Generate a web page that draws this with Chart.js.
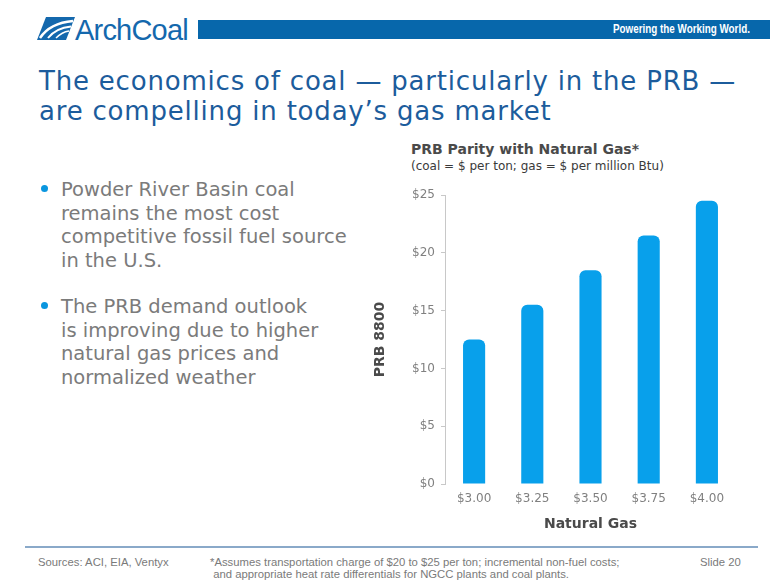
<!DOCTYPE html>
<html>
<head>
<meta charset="utf-8">
<script src="https://cdn.jsdelivr.net/npm/chart.js@4.4.0/dist/chart.umd.min.js"></script>
<style>
  html, body { margin:0; padding:0; background:#fff; }
  body { width:780px; height:585px; position:relative; overflow:hidden; font-family:"DejaVu Sans", Verdana, sans-serif; }
  .abs { position:absolute; white-space:nowrap; }
  #bar { left:198px; top:20px; width:572px; height:19px; background:#0767ab; }
  #tag { right:30px; top:22px; color:#fff; font-family:"Liberation Sans",Arial,sans-serif; font-size:12px; font-weight:bold; line-height:15px; transform:scaleX(0.82); transform-origin:right center; }
  #logoText { left:75px; top:14px; font-family:"Liberation Sans",Arial,sans-serif; font-size:29px; color:#1468ad; letter-spacing:-0.8px; line-height:32px; }
  #title { left:39px; top:66px; color:#1c5c9c; font-size:26px; line-height:30px; letter-spacing:0.8px; }
  .bullets { left:41px; color:#7b7b7b; font-size:19.5px; line-height:23.5px; }
  .dot { position:absolute; left:0; top:7px; width:7px; height:7px; border-radius:50%; background:#0a96df; }
  .btext { margin-left:20px; }
  #chTitle { left:411px; top:141px; font-weight:bold; font-size:14px; color:#4a4a4a; }
  #chSub { left:411px; top:159px; font-size:12px; color:#3a3a3a; }
  #wrap { left:370px; top:180px; width:380px; height:355px; }
  #rule { left:25px; top:546px; width:733px; height:2px; background:#8aa9c9; }
  .foot { font-family:"Liberation Sans",Arial,sans-serif; font-size:11.3px; color:#7a7a7a; line-height:12px; }
</style>
</head>
<body>
<svg class="abs" style="left:37px;top:17px" width="38" height="23" viewBox="0 0 38 23">
  <polygon points="9,0 38,0 29,23 0,23" fill="#1468ad"/>
  <path d="M3,21 Q13,6 36,4" stroke="#fff" stroke-width="2.5" fill="none"/>
  <path d="M11,21 Q19,11 34,9.5" stroke="#fff" stroke-width="2" fill="none"/>
  <path d="M19,21 Q25,15 32,14" stroke="#fff" stroke-width="1.5" fill="none"/>
</svg>
<div class="abs" id="logoText">ArchCoal</div>
<div class="abs" id="bar"></div>
<div class="abs" id="tag">Powering the Working World.</div>

<div class="abs" id="title">The economics of coal — particularly in the PRB —<br>are compelling in today’s gas market</div>

<div class="abs bullets" style="top:178px"><div class="dot"></div><div class="btext">Powder River Basin coal<br>remains the most cost<br>competitive fossil fuel source<br>in the U.S.</div></div>
<div class="abs bullets" style="top:295px"><div class="dot"></div><div class="btext">The PRB demand outlook<br>is improving due to higher<br>natural gas prices and<br>normalized weather</div></div>

<div class="abs" id="chTitle">PRB Parity with Natural Gas*</div>
<div class="abs" id="chSub">(coal = $ per ton; gas = $ per million Btu)</div>

<div class="abs" id="wrap"><canvas id="c" width="380" height="355"></canvas></div>

<div class="abs" id="rule"></div>
<div class="abs foot" style="left:38px;top:556px">Sources: ACI, EIA, Ventyx</div>
<div class="abs foot" style="left:210px;top:556px">*Assumes transportation charge of $20 to $25 per ton; incremental non-fuel costs;<br>&nbsp;and appropriate heat rate differentials for NGCC plants and coal plants.</div>
<div class="abs foot" style="left:700px;top:556px">Slide 20</div>

<script>
const categories = ["$3.00", "$3.25", "$3.50", "$3.75", "$4.00"];
const prbValues = [12.5, 15.5, 18.5, 21.5, 24.5];
const yTicks = [0, 5, 10, 15, 20, 25];

new Chart(document.getElementById('c'), {
  type: 'bar',
  data: {
    labels: categories,
    datasets: [{
      label: 'PRB 8800',
      data: prbValues,
      backgroundColor: '#08a0eb',
      borderWidth: 0,
      borderRadius: { topLeft: 6, topRight: 6, bottomLeft: 0, bottomRight: 0 },
      borderSkipped: 'bottom',
      categoryPercentage: 1,
      barPercentage: 0.38
    }]
  },
  options: {
    responsive: false,
    animation: false,
    devicePixelRatio: 1,
    layout: { padding: { top: 15, right: 14, left: 0, bottom: 0 } },
    plugins: { legend: { display: false }, tooltip: { enabled: false } },
    scales: {
      x: {
        grid: { display: false, drawTicks: false },
        border: { display: false },
        ticks: { color: '#808080', font: { family: 'DejaVu Sans', size: 12 }, padding: 8 },
        title: { display: true, text: 'Natural Gas', color: '#4a4a4a', font: { family: 'DejaVu Sans', size: 14, weight: 'bold' }, padding: { top: 4, bottom: 2 } },
        afterFit: s => { s.height = 51; }
      },
      y: {
        min: 0, max: 25,
        afterBuildTicks: s => { s.ticks = yTicks.map(v => ({ value: v })); },
        grid: { drawOnChartArea: false, drawTicks: true, tickLength: 4, color: '#c8c8c8' },
        border: { display: true, color: '#c8c8c8' },
        ticks: { color: '#808080', font: { family: 'DejaVu Sans', size: 12 }, padding: 6, callback: v => '$' + v },
        title: { display: true, text: 'PRB 8800', color: '#4a4a4a', font: { family: 'DejaVu Sans', size: 14, weight: 'bold' }, padding: { top: 2, bottom: 0 } },
        afterFit: s => { s.width = 75; }
      }
    }
  }
});
</script>
</body>
</html>
